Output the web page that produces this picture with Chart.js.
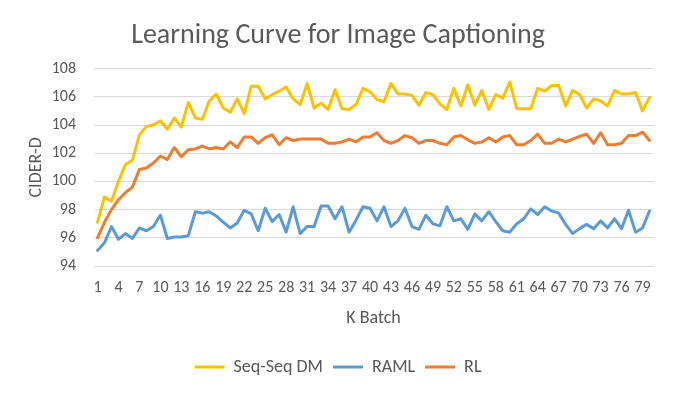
<!DOCTYPE html>
<html>
<head>
<meta charset="utf-8">
<script src="https://cdn.jsdelivr.net/npm/chart.js@4.4.1/dist/chart.umd.min.js"></script>
<style>
  html, body { margin: 0; padding: 0; background: #ffffff; }
  #wrap { width: 676px; height: 395px; }
</style>
</head>
<body>
<div id="wrap"><canvas id="learning-curve"></canvas></div>
<script>
// K batch categories
const batches = [
  1, 2, 3, 4, 5, 6, 7, 8, 9, 10, 11, 12, 13, 14, 15, 16, 17, 18, 19, 20,
  21, 22, 23, 24, 25, 26, 27, 28, 29, 30, 31, 32, 33, 34, 35, 36, 37, 38, 39, 40,
  41, 42, 43, 44, 45, 46, 47, 48, 49, 50, 51, 52, 53, 54, 55, 56, 57, 58, 59, 60,
  61, 62, 63, 64, 65, 66, 67, 68, 69, 70, 71, 72, 73, 74, 75, 76, 77, 78, 79, 80,
];

const seqSeqDM = [
  97.1, 98.9, 98.6, 100.0, 101.2, 101.5, 103.3, 103.9, 104.0, 104.3,
  103.7, 104.5, 103.85, 105.6, 104.5, 104.4, 105.7, 106.2, 105.2, 104.9,
  105.85, 104.8, 106.75, 106.75, 105.85, 106.15, 106.4, 106.7, 105.85, 105.45,
  106.95, 105.2, 105.55, 105.1, 106.5, 105.15, 105.1, 105.45, 106.6, 106.35,
  105.8, 105.65, 106.95, 106.2, 106.2, 106.1, 105.4, 106.3, 106.15, 105.5,
  105.1, 106.6, 105.35, 106.85, 105.4, 106.45, 105.1, 106.15, 105.9, 107.05,
  105.15, 105.15, 105.15, 106.6, 106.4, 106.8, 106.8, 105.35, 106.45, 106.15,
  105.2, 105.85, 105.7, 105.35, 106.45, 106.2, 106.2, 106.3, 105.0, 105.95,
];

const raml = [
  95.1, 95.65, 96.8, 95.9, 96.3, 95.95, 96.7, 96.5, 96.8, 97.6,
  95.95, 96.05, 96.05, 96.15, 97.85, 97.75, 97.85, 97.55, 97.1, 96.7,
  97.05, 97.95, 97.7, 96.5, 98.1, 97.15, 97.65, 96.4, 98.2, 96.3,
  96.8, 96.8, 98.25, 98.25, 97.35, 98.2, 96.4, 97.25, 98.2, 98.1,
  97.2, 98.2, 96.8, 97.2, 98.1, 96.8, 96.6, 97.6, 97.0, 96.85,
  98.2, 97.2, 97.35, 96.6, 97.7, 97.2, 97.85, 97.15, 96.5, 96.4,
  97.0, 97.35, 98.05, 97.65, 98.2, 97.9, 97.75, 96.95, 96.3, 96.65,
  96.95, 96.65, 97.2, 96.7, 97.35, 96.65, 97.95, 96.4, 96.7, 97.9,
];

const rl = [
  96.0, 97.1, 98.0, 98.7, 99.2, 99.6, 100.85, 100.95, 101.3, 101.8,
  101.55, 102.4, 101.75, 102.25, 102.3, 102.5, 102.3, 102.4, 102.3, 102.8,
  102.4, 103.15, 103.15, 102.7, 103.1, 103.3, 102.6, 103.1, 102.9, 103.0,
  103.0, 103.0, 103.0, 102.7, 102.7, 102.8, 103.0, 102.8, 103.15, 103.15,
  103.45, 102.9, 102.7, 102.9, 103.25, 103.1, 102.7, 102.9, 102.9, 102.7,
  102.6, 103.15, 103.25, 102.95, 102.7, 102.8, 103.1, 102.8, 103.15, 103.25,
  102.6, 102.6, 102.9, 103.35, 102.7, 102.7, 103.0, 102.8, 103.0, 103.2,
  103.35, 102.7, 103.45, 102.6, 102.6, 102.7, 103.25, 103.25, 103.5, 102.9,
];

// y axis: 94 .. 108 every 2
const yMin = 94;
const yMax = 108;
const yStep = 2;

const textGray = '#595959';
const gridGray = '#d9d9d9';
const fontFamily = 'Carlito, Calibri, "Open Sans", sans-serif';

const colors = {
  seq: '#ffc000',
  raml: '#5b9bd5',
  rl: '#ed7d31',
};

const makeSet = (label, data, color) => ({
  label,
  data,
  borderColor: color,
  backgroundColor: color,
  borderWidth: 3,
  pointRadius: 0,
  pointHoverRadius: 0,
  tension: 0,
  borderJoinStyle: 'round',
  borderCapStyle: 'round',
});

const ctx = document.getElementById('learning-curve');

new Chart(ctx, {
  type: 'line',
  data: {
    labels: batches,
    datasets: [
      makeSet('Seq-Seq DM', seqSeqDM, colors.seq),
      makeSet('RAML', raml, colors.raml),
      makeSet('RL', rl, colors.rl),
    ],
  },
  options: {
    responsive: true,
    maintainAspectRatio: false,
    animation: false,
    layout: {
      padding: { left: 0, right: 0, top: 0, bottom: 9 },
    },
    scales: {
      x: {
        offset: true,
        grid: { display: false, drawTicks: false },
        border: { display: false },
        ticks: {
          autoSkip: false,
          maxRotation: 0,
          minRotation: 0,
          padding: 12,
          color: textGray,
          font: { family: fontFamily, size: 16 },
          callback: (val, i) => (i % 3 === 0 ? batches[i] : ''),
        },
        title: {
          display: true,
          text: 'K Batch',
          color: textGray,
          font: { family: fontFamily, size: 18 },
          padding: { top: 0, bottom: 19 },
        },
        // keep the plot clear of the right edge without moving title/legend
        afterFit: (scale) => {
          scale.height = 82;
          scale.paddingRight = 23;
        },
      },
      y: {
        min: yMin,
        max: yMax,
        grid: { color: gridGray, lineWidth: 1, drawTicks: false },
        border: { display: false },
        ticks: {
          stepSize: yStep,
          padding: 18,
          color: textGray,
          font: { family: fontFamily, size: 16 },
        },
        title: {
          display: true,
          text: 'CIDER-D',
          color: textGray,
          font: { family: fontFamily, size: 18 },
          padding: { top: 26, bottom: 0 },
        },
        afterFit: (scale) => { scale.width = 94; },
      },
    },
    plugins: {
      title: {
        display: true,
        text: 'Learning Curve for Image Captioning',
        color: textGray,
        font: { family: fontFamily, size: 28, weight: 'normal' },
        padding: { top: 19, bottom: 16 },
      },
      legend: {
        position: 'bottom',
        labels: {
          usePointStyle: true,
          pointStyle: 'line',
          pointStyleWidth: 30,
          padding: 10,
          color: textGray,
          font: { family: fontFamily, size: 18 },
        },
      },
      tooltip: { enabled: false },
    },
  },
});
</script>
</body>
</html>
